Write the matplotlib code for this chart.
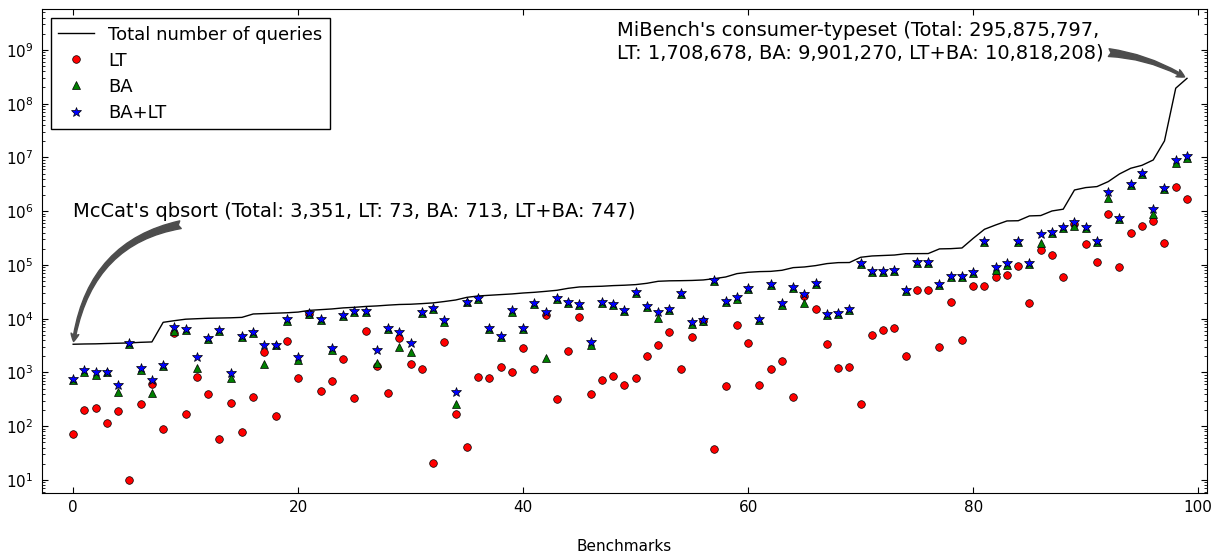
import numpy as np
import matplotlib
matplotlib.use("Agg")
import matplotlib.pyplot as plt

# total number of queries per benchmark (sorted)
total = [3351, 3390, 3410, 3460, 3500, 3550, 3640, 3700, 8570, 9200,
         9800, 10000, 10200, 10300, 10400, 10600, 12250, 12470, 12680, 12900,
         13300, 14300, 14750, 15200, 15900, 16300, 16900, 17300, 17900, 18400,
         18600, 19100, 19700, 20900, 22300, 25000, 26500, 27300, 28100, 28900,
         30100, 31000, 32300, 33800, 36800, 39000, 39600, 40200, 41300, 42000,
         43100, 45600, 49700, 50700, 51000, 51500, 52600, 55700, 59800, 69000,
         73100, 75200, 76000, 79600, 89200, 91800, 97300, 106000, 110500, 111000,
         139000, 147000, 150000, 153000, 162000, 162500, 163000, 199000, 201000, 207000,
         313000, 461000, 555000, 659000, 665000, 817000, 830000, 1010000, 1090000, 2480000,
         2750000, 2870000, 3550000, 4930000, 6290000, 7140000, 8970000, 20300000, 194000000, 295875797]

lt = [73, 198, 219, 117, 192, 10, 256, 611, 90, 5350,
      167, 836, 398, 58, 275, 77, 355, 2370, 157, 3910,
      778, 12000, 447, 695, 1760, 331, 5910, 1340, 416, 4390,
      1420, 1180, 21, 3640, 169, 41, 813, 778, 1265, 1021,
      2820, 1160, 11900, 317, 2550, 10900, 404, 724, 861, 594,
      791, 2030, 3300, 5590, 1146, 4570, 9080, 37, 569, 7550,
      3490, 577, 1146, 1640, 355, 26500, 15400, 3340, 1213, 1250,
      256, 4990, 6270, 6830, 2000, 33800, 33800, 3030, 20200, 4030,
      41300, 40100, 58900, 64300, 97300, 19600, 190000, 153000, 59800, 579000,
      242000, 115000, 877000, 93100, 400000, 540000, 659000, 256000, 2870000, 1708678]

ba = [713, 1040, 900, 1010, 440, 3450, 1114, 409, 1340, 5910,
      6200, 1230, 4200, 5900, 802, 4600, 5400, 1440, 3200, 9080,
      1710, 12200, 9300, 2620, 11000, 13200, 13400, 1480, 6350, 3030,
      2370, 12700, 15000, 8570, 263, 20300, 23500, 6350, 4600, 13600,
      6500, 19000, 1890, 23700, 19500, 18000, 3250, 19500, 17800, 14000,
      30000, 16500, 10500, 14300, 29000, 7980, 9080, 50600, 20800, 23700,
      35300, 9480, 42000, 18000, 36800, 19400, 43700, 11700, 12470, 14300,
      103000, 73000, 74000, 78500, 32400, 109000, 109000, 42300, 60700, 60700,
      70900, 263000, 80700, 100000, 271000, 106000, 261000, 396000, 481000, 540000,
      495000, 268000, 1740000, 718000, 3030000, 4850000, 889000, 2550000, 8020000, 9901270]

ba_lt = [747, 1114, 1040, 1040, 594, 3490, 1197, 724, 1380, 7130,
         6440, 1940, 4330, 6100, 964, 4790, 5590, 3300, 3250, 9750,
         1970, 12970, 9750, 2820, 11600, 13700, 13700, 2660, 6730, 5660,
         3540, 13200, 15600, 9480, 428, 20800, 24300, 6640, 4780, 14350,
         6830, 19900, 13560, 24700, 20500, 18800, 3640, 20500, 18500, 14550,
         31500, 17300, 13400, 15000, 30600, 8830, 9480, 52600, 21700, 25000,
         36800, 9890, 43700, 19900, 38400, 28400, 45600, 12250, 12970, 15000,
         107000, 76200, 78500, 81900, 33800, 113700, 113700, 44400, 63400, 63400,
         74100, 275000, 93000, 110500, 284000, 110000, 372000, 411000, 516000, 640000,
         516000, 280000, 2310000, 738000, 3170000, 5070000, 1090000, 2670000, 8970000, 10818208]

x = np.arange(len(total))

plt.rcParams['xtick.direction'] = 'in'
plt.rcParams['ytick.direction'] = 'in'
plt.rcParams['xtick.top'] = True
plt.rcParams['ytick.right'] = True
plt.rcParams['xtick.major.size'] = 4
plt.rcParams['ytick.major.size'] = 4
plt.rcParams['ytick.minor.size'] = 2
plt.rcParams['xtick.major.pad'] = 5
plt.rcParams['ytick.major.pad'] = 6

fig = plt.figure(figsize=(12.18, 5.56), dpi=100)
ax = fig.add_axes([0.0342, 0.1133, 0.9565, 0.870])

ax.plot(x, total, 'k-', lw=1, label='Total number of queries')
ax.plot(x, lt, 'o', color='r', mec='k', mew=0.5, ms=5.5, label='LT')
ax.plot(x, ba, '^', color='g', mec='k', mew=0.5, ms=5.5, label='BA')
ax.plot(x, ba_lt, '*', color='b', mec='k', mew=0.5, ms=7, label='BA+LT')

ax.set_yscale('log')
ax.set_xlim(-2.8, 100.75)
ax.set_ylim(5.73, 5.7e9)
ax.set_xticks([0, 20, 40, 60, 80, 100])
ax.tick_params(labelsize=11)
ax.set_xlabel('Benchmarks', fontsize=11, labelpad=17)

leg = ax.legend(loc='upper left', numpoints=1, fontsize=13, fancybox=False,
                framealpha=1, edgecolor='k', borderaxespad=0.5, labelspacing=0.45)
leg.get_frame().set_linewidth(1)

ax.annotate("McCat's qbsort (Total: 3,351, LT: 73, BA: 713, LT+BA: 747)",
            xy=(0, total[0]), xytext=(0, 9.7e5), fontsize=14,
            ha='left', va='center',
            arrowprops=dict(arrowstyle='fancy,head_length=0.4,head_width=0.4,tail_width=0.4',
                            color='0.3', relpos=(0.235, 0.0),
                            connectionstyle='arc3,rad=0.4'))
ax.annotate("MiBench's consumer-typeset (Total: 295,875,797,\n"
            "LT: 1,708,678, BA: 9,901,270, LT+BA: 10,818,208)",
            xy=(99, total[99]), xytext=(48.3, 1.41e9), fontsize=14,
            ha='left', va='center',
            arrowprops=dict(arrowstyle='fancy,head_length=0.4,head_width=0.4,tail_width=0.4',
                            color='0.3', relpos=(1.0, 0.25),
                            connectionstyle='arc3,rad=-0.12'))

fig.savefig('out.png', dpi=100)
